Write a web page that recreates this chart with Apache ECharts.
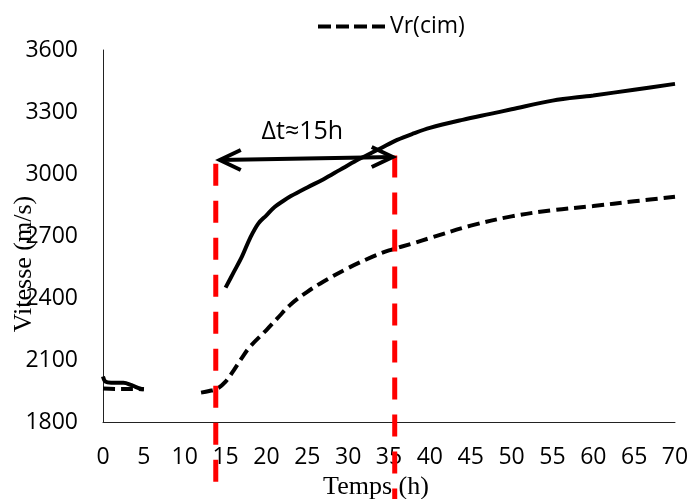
<!DOCTYPE html>
<html>
<head>
<meta charset="utf-8">
<script src="https://cdn.jsdelivr.net/npm/echarts@6/dist/echarts.min.js"></script>
<style>
html,body{margin:0;padding:0;background:#fff;}
#chart{width:691px;height:499px;}
</style>
</head>
<body>
<div id="chart"></div>
<script>
// X positions (hours) and values (m/s)
const solidSeg1X = [0, 0.3, 1, 2.5, 3.5, 4.5, 5];
const solidSeg1Y = [2020, 1995, 1990, 1990, 1978, 1962, 1958];
const solidSeg2X = [15, 16, 17, 18, 19, 20, 21, 22, 23, 25, 27, 29, 31, 32, 34, 36, 38, 40, 44, 47.4, 50, 55, 60, 65, 70];
const solidSeg2Y = [2450, 2525, 2600, 2690, 2760, 2800, 2840, 2868, 2893, 2935, 2975, 3020, 3065, 3085, 3125, 3165, 3196, 3223, 3262, 3291, 3313, 3355, 3380, 3408, 3436];
const cimSeg1X = [0, 2, 4, 5];
const cimSeg1Y = [1962, 1960, 1960, 1958];
const cimSeg2X = [12, 13, 14, 15, 16, 17, 18, 20, 21.3, 23, 25, 27, 30, 33, 35, 38, 40, 45, 50, 55, 60, 65, 70];
const cimSeg2Y = [1942, 1950, 1962, 1995, 2050, 2110, 2165, 2245, 2300, 2370, 2430, 2480, 2545, 2600, 2630, 2665, 2690, 2750, 2795, 2825, 2845, 2868, 2890];
const legendName = 'Vr(cim)';
const xTitle = 'Temps (h)';
const yTitle = 'Vitesse (m/s)';
const deltaLabel = 'Δt≈15h';
const markT1 = 13.8;   // hours, left red line
const markT2 = 35.7;   // hours, right red line
const arrowY1 = 3068, arrowY2 = 3082;

function zip(xs, ys){ return xs.map((x,i)=>[x, ys[i]]); }
const solidData = zip(solidSeg1X, solidSeg1Y).concat([[8, null]], zip(solidSeg2X, solidSeg2Y));
const cimData = zip(cimSeg1X, cimSeg1Y).concat([[8, null]], zip(cimSeg2X, cimSeg2Y));

const chart = echarts.init(document.getElementById('chart'), null, {renderer:'canvas'});
const labelFont = {fontFamily:'Open Sans', fontSize:23, color:'#000'};
const dashIcon = 'path://M0,0h13v4h-13z M18,0h13v4h-13z M36,0h13v4h-13z M54,0h13v4h-13z';
chart.setOption({
  animation:false,
  backgroundColor:'#fff',
  grid:{left:103, right:16, top:50, bottom:77, containLabel:false, outerBoundsMode:'none'},
  legend:{
    data:[{name:legendName, icon:dashIcon}], left:313, top:10,
    itemWidth:67, itemHeight:4, itemGap:8, symbolKeepAspect:false,
    itemStyle:{color:'#000'},
    textStyle:{fontFamily:'Open Sans', fontSize:23, color:'#000'}
  },
  xAxis:{
    type:'value', min:0, max:70, interval:5,
    name:xTitle, nameLocation:'middle', nameGap:48,
    nameTextStyle:{fontFamily:'Liberation Serif', fontSize:26, color:'#000', padding:[0,26,0,0]},
    axisLine:{show:true, onZero:false, lineStyle:{color:'#222', width:1}},
    axisTick:{show:false}, splitLine:{show:false},
    axisLabel:Object.assign({margin:24}, labelFont)
  },
  yAxis:{
    type:'value', min:1800, max:3600, interval:300,
    axisLine:{show:true, lineStyle:{color:'#222', width:1}},
    axisTick:{show:false}, splitLine:{show:false},
    axisLabel:Object.assign({margin:25, formatter:function(v){return String(v);}}, labelFont)
  },
  series:[
    {name:'Vr', type:'line', data:solidData, symbol:'none', smooth:0.35, connectNulls:false,
     lineStyle:{color:'#000', width:4}, itemStyle:{color:'#000'}},
    {name:legendName, type:'line', data:cimData, symbol:'none', smooth:0.35, connectNulls:false,
     lineStyle:{color:'#000', width:4, type:[12,6]}, itemStyle:{color:'#000'}}
  ]
});

function px(x, y){ return chart.convertToPixel({xAxisIndex:0, yAxisIndex:0}, [x, y]); }
const pL = px(markT1, 3050), pR = px(markT2, 3090);
const axisBottom = px(0, 1800)[1];
const aL = px(markT1, arrowY1), aR = px(markT2, arrowY2);
const txt = px(24.4, 3203);
const head = 21, headH = 10;
chart.setOption({
  graphic:[
    {type:'text', x:24, y:264, rotation:Math.PI/2, style:{text:yTitle, fontFamily:'Liberation Serif', fontSize:26, fill:'#000', textAlign:'center', textVerticalAlign:'middle'}, z:5},
    {type:'line', shape:{x1:pL[0], y1:pL[1], x2:pL[0], y2:axisBottom+63}, style:{stroke:'#ff0000', lineWidth:5, lineDash:[22,15]}, z:10},
    {type:'line', shape:{x1:pR[0], y1:pR[1], x2:pR[0], y2:axisBottom+77}, style:{stroke:'#ff0000', lineWidth:5, lineDash:[22,15]}, z:10},
    {type:'line', shape:{x1:aL[0]+4, y1:aL[1], x2:aR[0]-2, y2:aR[1]}, style:{stroke:'#000', lineWidth:4}, z:11},
    {type:'polyline', shape:{points:[[aL[0]+4+head, aL[1]-headH],[aL[0]+4, aL[1]],[aL[0]+4+head, aL[1]+headH]]}, style:{stroke:'#000', lineWidth:4, fill:null}, z:11},
    {type:'polyline', shape:{points:[[aR[0]-2-head, aR[1]-headH],[aR[0]-2, aR[1]],[aR[0]-2-head, aR[1]+headH]]}, style:{stroke:'#000', lineWidth:4, fill:null}, z:11},
    {type:'text', x:txt[0], y:txt[1], style:{text:deltaLabel, fontFamily:'Open Sans', fontSize:25, fill:'#000', textAlign:'center', textVerticalAlign:'middle'}, z:12}
  ]
});
</script>
</body>
</html>
